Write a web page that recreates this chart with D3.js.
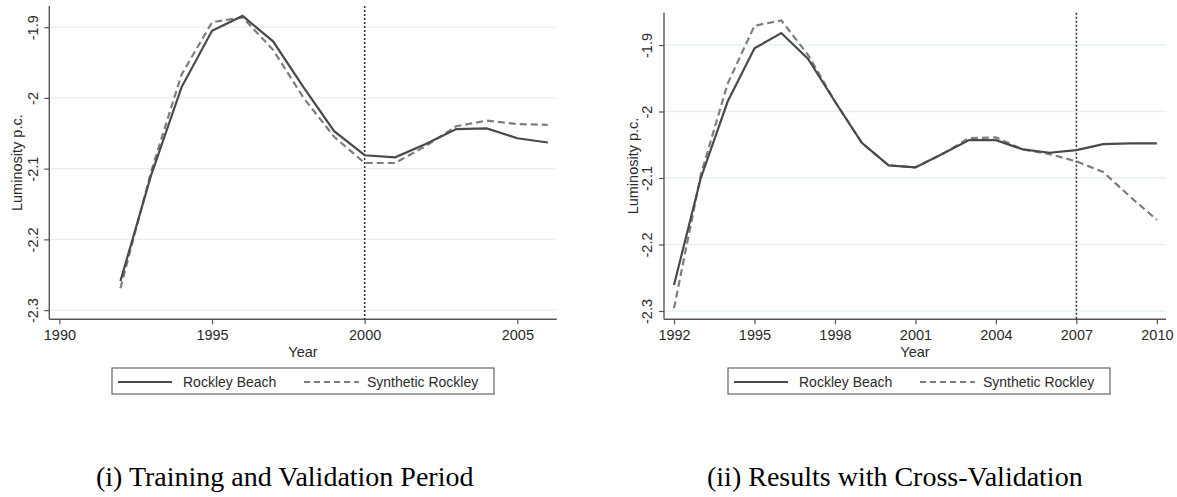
<!DOCTYPE html>
<html>
<head>
<meta charset="utf-8">
<script src="https://cdn.jsdelivr.net/npm/d3@7"></script>
<style>
  body { margin: 0; background: #fff; }
  svg { display: block; }
  .tick text { font-family: "Liberation Sans", Arial, sans-serif; }
</style>
</head>
<body>
<svg id="chart" width="1177" height="497"></svg>
<script>
// panel (i): training and validation period
var yearsA = [1992, 1993, 1994, 1995, 1996, 1997, 1998, 1999, 2000, 2001, 2002, 2003, 2004, 2005, 2006];
var rockleyA = [-2.259, -2.110, -1.985, -1.905, -1.884, -1.920, -1.985, -2.047, -2.081, -2.084, -2.065, -2.044, -2.043, -2.057, -2.063];
var syntheticA = [-2.269, -2.105, -1.967, -1.893, -1.886, -1.932, -2.000, -2.055, -2.092, -2.092, -2.068, -2.040, -2.032, -2.037, -2.038];
var xTicksA = [1990, 1995, 2000, 2005];

// panel (ii): cross-validation
var yearsB = [1992, 1993, 1994, 1995, 1996, 1997, 1998, 1999, 2000, 2001, 2002, 2003, 2004, 2005, 2006, 2007, 2008, 2009, 2010];
var rockleyB = [-2.261, -2.100, -1.985, -1.905, -1.882, -1.921, -1.985, -2.047, -2.081, -2.084, -2.064, -2.043, -2.043, -2.057, -2.062, -2.058, -2.049, -2.048, -2.048];
var syntheticB = [-2.296, -2.095, -1.958, -1.871, -1.863, -1.915, -1.985, -2.047, -2.081, -2.084, -2.064, -2.040, -2.039, -2.057, -2.064, -2.075, -2.091, -2.128, -2.163];
var xTicksB = [1992, 1995, 1998, 2001, 2004, 2007, 2010];

var yTicks = [-1.9, -2, -2.1, -2.2, -2.3];
var seriesNames = ["Rockley Beach", "Synthetic Rockley"];
var captions = ["(i) Training and Validation Period", "(ii) Results with Cross-Validation"];

var svg = d3.select("#chart");
var sans = "'Liberation Sans', Arial, sans-serif";
var textCol = "#2b2b2b";

function drawPanel(p) {
  var x = d3.scaleLinear().domain(p.xDomain).range([p.left, p.right]);
  var y = d3.scaleLinear().domain(p.yDomain).range([p.bottom, p.top]);
  var g = svg.append("g");

  // gridlines
  g.selectAll("line.grid").data(yTicks).enter().append("line")
    .attr("class", "grid")
    .attr("x1", p.left + 1).attr("x2", p.right)
    .attr("y1", function (d) { return y(d); }).attr("y2", function (d) { return y(d); })
    .attr("stroke", "#e6f0f1").attr("stroke-width", 1.3);

  // y axis
  var yAxis = g.append("g")
    .attr("transform", "translate(" + p.left + ",0)")
    .call(d3.axisLeft(y).tickValues(yTicks).tickSize(5).tickPadding(0)
      .tickFormat(function (d) { return String(d); }));
  yAxis.select(".domain").attr("stroke", "#555").attr("stroke-width", 1.4)
    .attr("d", "M0," + p.top + "V" + p.bottom);
  yAxis.selectAll(".tick line").attr("stroke", "#555").attr("stroke-width", 1.2);
  yAxis.selectAll(".tick text")
    .attr("x", 0).attr("dy", null)
    .attr("transform", "translate(" + (p.yTickX - p.left) + ",0) rotate(-90)")
    .attr("text-anchor", "middle")
    .attr("dominant-baseline", "central")
    .attr("font-size", 14.5).attr("fill", textCol);

  // x axis
  var xAxis = g.append("g")
    .attr("transform", "translate(0," + p.bottom + ")")
    .call(d3.axisBottom(x).tickValues(p.xTicks).tickSize(5).tickPadding(5).tickFormat(d3.format("d")));
  xAxis.select(".domain").attr("stroke", "#555").attr("stroke-width", 1.4)
    .attr("d", "M" + p.left + ",0H" + p.right);
  xAxis.selectAll(".tick line").attr("stroke", "#555").attr("stroke-width", 1.2);
  xAxis.selectAll(".tick text").attr("font-size", 14.5).attr("fill", textCol);

  // axis titles
  g.append("text")
    .attr("transform", "translate(" + p.yLabelX + "," + ((p.top + p.bottom) / 2) + ") rotate(-90)")
    .attr("text-anchor", "middle").attr("dominant-baseline", "central")
    .attr("font-family", sans).attr("font-size", 14.5).attr("fill", textCol)
    .text("Luminosity p.c.");
  g.append("text")
    .attr("x", (p.left + p.right) / 2).attr("y", p.bottom + 38)
    .attr("text-anchor", "middle")
    .attr("font-family", sans).attr("font-size", 14.5).attr("fill", textCol)
    .text("Year");

  // treatment line
  g.append("line")
    .attr("x1", x(p.vline)).attr("x2", x(p.vline))
    .attr("y1", p.top).attr("y2", p.bottom)
    .attr("stroke", "#333").attr("stroke-width", 1.6).attr("stroke-dasharray", "2,2");

  var line = d3.line()
    .x(function (d) { return x(d[0]); })
    .y(function (d) { return y(d[1]); });

  g.append("path")
    .datum(d3.zip(p.years, p.synthetic))
    .attr("d", line).attr("fill", "none")
    .attr("stroke", "#7d7d7d").attr("stroke-width", 2.2).attr("stroke-dasharray", "7,4");
  g.append("path")
    .datum(d3.zip(p.years, p.rockley))
    .attr("d", line).attr("fill", "none")
    .attr("stroke", "#4a4a4a").attr("stroke-width", 2.2);

  // legend
  var lg = g.append("g").attr("transform", "translate(" + p.legendX + ",368)");
  lg.append("rect").attr("width", 382).attr("height", 26)
    .attr("fill", "#fff").attr("stroke", "#666").attr("stroke-width", 1.2);
  lg.append("line").attr("x1", 6).attr("x2", 60).attr("y1", 14).attr("y2", 14)
    .attr("stroke", "#4a4a4a").attr("stroke-width", 2);
  lg.append("text").attr("x", 71).attr("y", 14).attr("dominant-baseline", "central")
    .attr("font-family", sans).attr("font-size", 14).attr("fill", textCol)
    .text(seriesNames[0]);
  lg.append("line").attr("x1", 192).attr("x2", 247).attr("y1", 14).attr("y2", 14)
    .attr("stroke", "#7d7d7d").attr("stroke-width", 2).attr("stroke-dasharray", "6,4");
  lg.append("text").attr("x", 255).attr("y", 14).attr("dominant-baseline", "central")
    .attr("font-family", sans).attr("font-size", 14).attr("fill", textCol)
    .text(seriesNames[1]);

  // caption
  svg.append("text")
    .attr("x", p.captionX).attr("y", 486)
    .attr("font-family", "'Liberation Serif', 'Times New Roman', serif")
    .attr("font-size", 28).attr("fill", "#000")
    .text(p.caption);
}

drawPanel({
  years: yearsA, rockley: rockleyA, synthetic: syntheticA, xTicks: xTicksA,
  xDomain: [1989.67, 2006.29], yDomain: [-2.313, -1.87],
  left: 49.3, right: 556.7, top: 6, bottom: 319.3,
  yTickX: 33, yLabelX: 16.5, vline: 2000, legendX: 112,
  captionX: 96, caption: captions[0]
});

drawPanel({
  years: yearsB, rockley: rockleyB, synthetic: syntheticB, xTicks: xTicksB,
  xDomain: [1991.627, 2010.34], yDomain: [-2.3125, -1.8514],
  left: 664, right: 1166, top: 12.7, bottom: 319.3,
  yTickX: 646.5, yLabelX: 633, vline: 2007, legendX: 728,
  captionX: 707, caption: captions[1]
});
</script>
</body>
</html>
